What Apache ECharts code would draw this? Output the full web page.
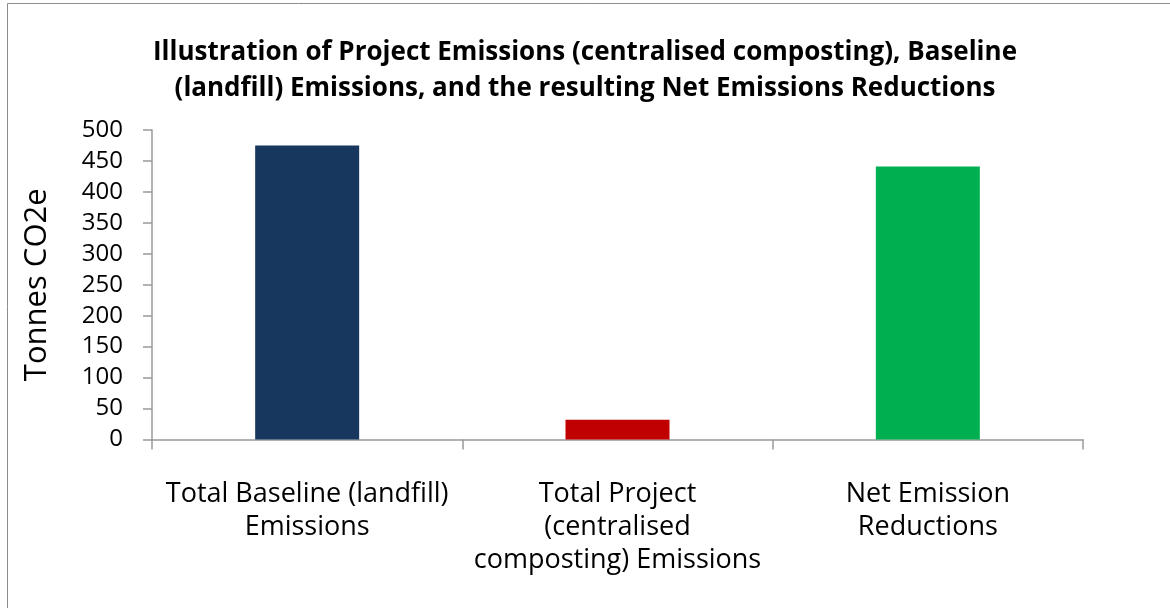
<!DOCTYPE html>
<html><head><meta charset="utf-8">
<script src="https://cdn.jsdelivr.net/npm/echarts@6/dist/echarts.min.js"></script>
<style>html,body{margin:0;padding:0;background:#fff}#c{width:1170px;height:608px}</style>
</head><body><div id="c"></div>
<script>
const categories = ["Total Baseline (landfill)\nEmissions", "Total Project\n(centralised\ncomposting) Emissions", "Net Emission\nReductions"];
const values = [475, 32, 441];
const colors = ["#17375E", "#C00000", "#00B050"];
const titleText = "Illustration of Project Emissions (centralised composting), Baseline\n(landfill) Emissions, and the resulting Net Emissions Reductions";
const yName = "Tonnes CO2e";
const F = "'Open Sans', 'Noto Sans', sans-serif";
const chart = echarts.init(document.getElementById('c'));
chart.setOption({
  animation: false,
  backgroundColor: '#fff',
  graphic: [{type:'rect', shape:{x:7.5,y:3.5,width:1200,height:700}, style:{fill:'none', stroke:'#8c8c8c', lineWidth:1}}],
  title: {text: titleText, left: 'center', top: 30, textStyle:{fontFamily:F, fontWeight:'bold', fontSize:26, lineHeight:36, color:'#000'}},
  grid: {left:152, right:87, top:130, bottom:168.5},
  xAxis: {type:'category', data: categories,
    axisLine:{lineStyle:{color:'#999', width:1.5}},
    axisTick:{show:true, length:10, lineStyle:{color:'#999', width:1.5}},
    axisLabel:{fontFamily:F, fontSize:27, color:'#000', lineHeight:33, margin:38, interval:0}},
  yAxis: {type:'value', min:0, max:500, interval:50, name: yName, nameLocation:'middle', nameGap:99,
    nameTextStyle:{fontFamily:F, fontSize:31, color:'#000'},
    axisLine:{show:true, lineStyle:{color:'#999', width:1.5}},
    axisTick:{show:true, length:9, lineStyle:{color:'#999', width:1.5}},
    splitLine:{show:false},
    axisLabel:{fontFamily:F, fontSize:24, color:'#000', margin:29}},
  series: [{type:'bar', barWidth:104,
    data: values.map((v,i)=>({value:v, itemStyle:{color:colors[i]}}))}]
});
</script></body></html>
